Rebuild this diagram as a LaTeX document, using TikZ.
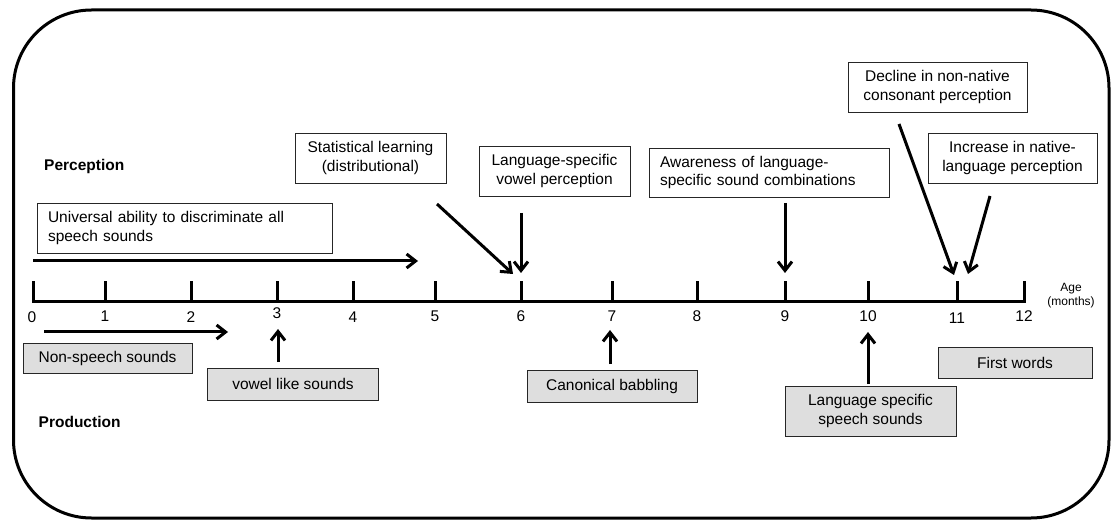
\documentclass[tikz,border=0pt]{standalone}
\usepackage{fontspec}
\setmainfont{Liberation Sans}
\usetikzlibrary{arrows.meta}
\begin{document}
\begin{tikzpicture}[x=1pt,y=-1pt,
  txt/.style={font=\fontsize{15.5}{18.5}\selectfont},
  pbox/.style={txt,draw=black!85,line width=0.9pt,fill=white,inner sep=3pt,align=center},
  gbox/.style={pbox,fill=black!13},
  lbox/.style={pbox,align=left,inner xsep=11pt},
  arr/.style={line width=3pt,-{Straight Barb[length=9pt,width=14pt,line width=3pt]}},
  ticklab/.style={font=\fontsize{15.5}{17}\selectfont,anchor=center},
  sect/.style={font=\fontsize{15.5}{17}\selectfont\bfseries,anchor=west}]
\useasboundingbox (0,0) rectangle (1114,521);
% outer frame
\draw[line width=3pt,rounded corners=78pt] (13.5,10) rectangle (1109,518);

% time axis (months)
\draw[line width=3pt] (32,301.5) -- (1025.5,301.5);
\foreach \m/\x in {0/33,1/105,2/191,3/277,4/353,5/435,6/521,7/612,8/697,9/785,10/868,11/957,12/1024}{
  \coordinate (t\m) at (\x,301.5);
  \draw[line width=3pt] (\x,303) -- (\x,281);
}
\foreach \m/\x/\y in {0/32/317,1/105/316,2/191/317,3/277/313,4/353/317,5/435/316,6/521/316,7/612/316,8/697/316,9/785/316,10/868/316,11/957/318,12/1024/316}{
  \node[ticklab] (n\m) at (\x,\y) {\m};
}
\node[font=\fontsize{12}{14}\selectfont,align=center] (age) at (1071,296) {Age\\(months)};

% section titles
\node[sect,inner sep=0pt] (perc) at (44,166) {Perception};
\node[sect,inner sep=0pt] (prod) at (38.5,422) {Production};

% perception milestones
\node[lbox,minimum width=295pt,minimum height=50pt,text width=273pt] (univ) at (184.5,228)
  {Universal ability to discriminate all\\speech sounds};
\node[pbox,minimum width=151pt,minimum height=50pt] (stat) at (370.5,158)
  {Statistical learning\\(distributional)};
\node[pbox,minimum width=151pt,minimum height=50pt] (vowel) at (554.5,171)
  {Language-specific\\vowel perception};
\node[lbox,minimum width=240pt,minimum height=49pt,text width=218pt] (aware) at (769,172.5)
  {Awareness of language-\\specific sound combinations};
\node[pbox,minimum width=179pt,minimum height=50pt] (decl) at (937.5,87)
  {Decline in non-native\\consonant perception};
\node[pbox,minimum width=169pt,minimum height=50pt] (incr) at (1012.5,158)
  {Increase in native-\\language perception};

\coordinate (univS) at (33,261);
\coordinate (univE) at (418,261);
\draw[arr] (univS) -- (univE);
\coordinate (statS) at (437,204);
\coordinate (statE) at (513,274);
\draw[arr] (statS) -- (statE);
\coordinate (vowelS) at (521,213);
\coordinate (vowelE) at (521,273);
\draw[arr] (vowelS) -- (vowelE);
\coordinate (awareS) at (785,203);
\coordinate (awareE) at (785,273);
\draw[arr] (awareS) -- (awareE);
\coordinate (declS) at (899,124);
\coordinate (declE) at (954,275);
\draw[arr] (declS) -- (declE);
\coordinate (incrS) at (990,196);
\coordinate (incrE) at (968,274);
\draw[arr] (incrS) -- (incrE);

% production milestones
\node[gbox,minimum width=169pt,minimum height=30pt] (nonsp) at (107.5,358) {Non-speech sounds};
\node[gbox,minimum width=171pt,minimum height=32pt] (vls) at (293,384) {vowel like sounds};
\node[gbox,minimum width=170pt,minimum height=32pt] (canon) at (612,386) {Canonical babbling};
\node[gbox,minimum width=171pt,minimum height=50pt] (lsss) at (870.5,411) {Language specific\\speech sounds};
\node[gbox,minimum width=154pt,minimum height=31pt] (first) at (1015,362.5) {First words};

\coordinate (nonS) at (44,332);
\coordinate (nonE) at (228,332);
\draw[arr] (nonS) -- (nonE);
\coordinate (vlsS) at (278,362);
\coordinate (vlsE) at (278,329);
\draw[arr] (vlsS) -- (vlsE);
\coordinate (canS) at (610,364);
\coordinate (canE) at (610,330);
\draw[arr] (canS) -- (canE);
\coordinate (lsS) at (868,384);
\coordinate (lsE) at (868,332);
\draw[arr] (lsS) -- (lsE);
\end{tikzpicture}
\end{document}
